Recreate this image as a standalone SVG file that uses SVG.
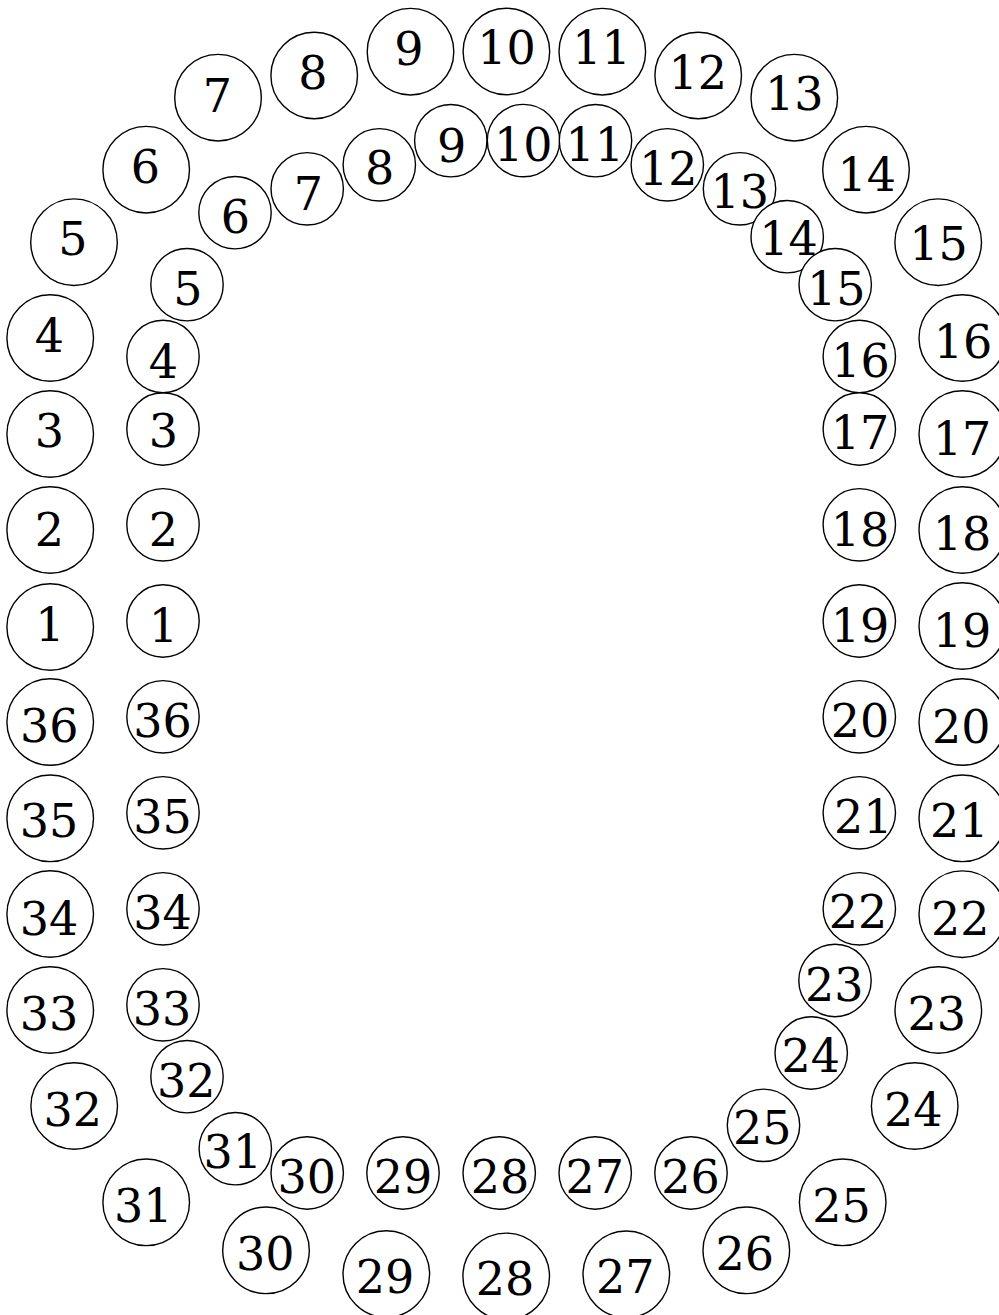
<svg xmlns="http://www.w3.org/2000/svg" width="999" height="1315" viewBox="0 0 999 1315">
<style>
circle{fill:#fff;stroke:#000;stroke-width:1.4}
text{font-family:"DejaVu Serif","Liberation Serif",serif;font-size:46px;fill:#000;text-anchor:middle}
</style>
<rect width="999" height="1315" fill="#fff"/>
<g id="connectors"/>
<g id="outer">
<g id="o1"><circle cx="50.2" cy="627" r="43.3"/><text x="49.8" y="640.7">1</text></g>
<g id="o2"><circle cx="50.2" cy="530" r="43.3"/><text x="49.5" y="546">2</text></g>
<g id="o3"><circle cx="50.2" cy="434" r="43.3"/><text x="49.5" y="446.7">3</text></g>
<g id="o4"><circle cx="50.2" cy="338" r="43.3"/><text x="49.5" y="351.7">4</text></g>
<g id="o5"><circle cx="74" cy="242.2" r="43.3"/><text x="72.8" y="255">5</text></g>
<g id="o6"><circle cx="146.2" cy="169.7" r="43.3"/><text x="145.3" y="183.3">6</text></g>
<g id="o7"><circle cx="218" cy="97.7" r="43.3"/><text x="217.5" y="111.7">7</text></g>
<g id="o8"><circle cx="314.2" cy="75.5" r="43.3"/><text x="313" y="89.3">8</text></g>
<g id="o9"><circle cx="410.5" cy="51.7" r="43.3"/><text x="409" y="65.3">9</text></g>
<g id="o10"><circle cx="506.4" cy="51.5" r="43.3"/><text x="506.6" y="64">10</text></g>
<g id="o11"><circle cx="602.3" cy="51.7" r="43.3"/><text x="601.5" y="64">11</text></g>
<g id="o12"><circle cx="698.2" cy="75.5" r="43.3"/><text x="697.8" y="89.3">12</text></g>
<g id="o13"><circle cx="794.3" cy="97.7" r="43.3"/><text x="794.3" y="110">13</text></g>
<g id="o14"><circle cx="866" cy="169.7" r="43.3"/><text x="866.8" y="190.7">14</text></g>
<g id="o15"><circle cx="938.2" cy="242.2" r="43.3"/><text x="938.5" y="260">15</text></g>
<g id="o16"><circle cx="962.3" cy="338" r="43.3"/><text x="963" y="358.3">16</text></g>
<g id="o17"><circle cx="962.3" cy="434" r="43.3"/><text x="962" y="455">17</text></g>
<g id="o18"><circle cx="962.3" cy="530" r="43.3"/><text x="962" y="550">18</text></g>
<g id="o19"><circle cx="962.3" cy="626" r="43.3"/><text x="962" y="646.7">19</text></g>
<g id="o20"><circle cx="962.3" cy="722" r="43.3"/><text x="961.2" y="742.7">20</text></g>
<g id="o21"><circle cx="962.3" cy="818.3" r="43.3"/><text x="959.2" y="837.3">21</text></g>
<g id="o22"><circle cx="962.3" cy="914.2" r="43.3"/><text x="960.3" y="935">22</text></g>
<g id="o23"><circle cx="938.3" cy="1010" r="43.3"/><text x="936.7" y="1030">23</text></g>
<g id="o24"><circle cx="914.7" cy="1106" r="43.3"/><text x="913.2" y="1126">24</text></g>
<g id="o25"><circle cx="842.7" cy="1202.3" r="43.3"/><text x="841.5" y="1221.7">25</text></g>
<g id="o26"><circle cx="746.3" cy="1250.3" r="43.3"/><text x="744.8" y="1270">26</text></g>
<g id="o27"><circle cx="626.3" cy="1274.3" r="43.3"/><text x="625.2" y="1293.3">27</text></g>
<g id="o28"><circle cx="506.2" cy="1276.4" r="43.3"/><text x="505" y="1295">28</text></g>
<g id="o29"><circle cx="386.3" cy="1274" r="43.3"/><text x="385" y="1293.3">29</text></g>
<g id="o30"><circle cx="266" cy="1250.3" r="43.3"/><text x="265.2" y="1270">30</text></g>
<g id="o31"><circle cx="146.2" cy="1202.3" r="43.3"/><text x="143.2" y="1221.7">31</text></g>
<g id="o32"><circle cx="74.2" cy="1106" r="43.3"/><text x="72.7" y="1126">32</text></g>
<g id="o33"><circle cx="50.2" cy="1010" r="43.3"/><text x="49" y="1030">33</text></g>
<g id="o34"><circle cx="50.2" cy="914" r="43.3"/><text x="49" y="935">34</text></g>
<g id="o35"><circle cx="50.2" cy="818.3" r="43.3"/><text x="49" y="837.3">35</text></g>
<g id="o36"><circle cx="50.2" cy="722" r="43.3"/><text x="49.2" y="741.7">36</text></g>
</g>
<g id="inner">
<g id="i1"><circle cx="163" cy="621" r="36.2"/><text x="163.5" y="641.5">1</text></g>
<g id="i2"><circle cx="163" cy="524.8" r="36.2"/><text x="163.5" y="546">2</text></g>
<g id="i3"><circle cx="163" cy="429" r="36.2"/><text x="163.5" y="447.3">3</text></g>
<g id="i4"><circle cx="163" cy="356.5" r="36.2"/><text x="163.5" y="378.3">4</text></g>
<g id="i5"><circle cx="187" cy="284.7" r="36.2"/><text x="187.8" y="305">5</text></g>
<g id="i6"><circle cx="235" cy="212.7" r="36.2"/><text x="235.5" y="232.7">6</text></g>
<g id="i7"><circle cx="307.2" cy="188.8" r="36.2"/><text x="308.3" y="210">7</text></g>
<g id="i8"><circle cx="379.3" cy="164.8" r="36.2"/><text x="379.7" y="184.3">8</text></g>
<g id="i9"><circle cx="450.8" cy="140.7" r="36.2"/><text x="451.7" y="161.7">9</text></g>
<g id="i10"><circle cx="523.5" cy="140.6" r="36.2"/><text x="523.3" y="160.5">10</text></g>
<g id="i11"><circle cx="595.5" cy="140.7" r="36.2"/><text x="594.8" y="160.7">11</text></g>
<g id="i12"><circle cx="667.3" cy="164.8" r="36.2"/><text x="668.2" y="185">12</text></g>
<g id="i13"><circle cx="739.5" cy="188.8" r="36.2"/><text x="739.8" y="208.3">13</text></g>
<g id="i14"><circle cx="787.2" cy="236.7" r="36.2"/><text x="788.5" y="255">14</text></g>
<g id="i15"><circle cx="835.2" cy="284.7" r="36.2"/><text x="836.2" y="305">15</text></g>
<g id="i16"><circle cx="859.3" cy="356.5" r="36.2"/><text x="860.5" y="377.3">16</text></g>
<g id="i17"><circle cx="859.3" cy="429" r="36.2"/><text x="860" y="449">17</text></g>
<g id="i18"><circle cx="859.3" cy="524.8" r="36.2"/><text x="860" y="546">18</text></g>
<g id="i19"><circle cx="859.3" cy="621" r="36.2"/><text x="860" y="641.7">19</text></g>
<g id="i20"><circle cx="859.3" cy="716.8" r="36.2"/><text x="860" y="736.7">20</text></g>
<g id="i21"><circle cx="859.3" cy="812.8" r="36.2"/><text x="863.3" y="832.7">21</text></g>
<g id="i22"><circle cx="859.3" cy="908.8" r="36.2"/><text x="858" y="928.3">22</text></g>
<g id="i23"><circle cx="835" cy="980.5" r="36.2"/><text x="834.3" y="1000.7">23</text></g>
<g id="i24"><circle cx="811.2" cy="1053" r="36.2"/><text x="810.8" y="1072.3">24</text></g>
<g id="i25"><circle cx="763.5" cy="1125.3" r="36.2"/><text x="762.3" y="1144">25</text></g>
<g id="i26"><circle cx="691" cy="1173" r="36.2"/><text x="690.5" y="1193.3">26</text></g>
<g id="i27"><circle cx="595.2" cy="1173" r="36.2"/><text x="594.7" y="1193.3">27</text></g>
<g id="i28"><circle cx="499.2" cy="1173" r="36.2"/><text x="500" y="1193.3">28</text></g>
<g id="i29"><circle cx="403" cy="1173" r="36.2"/><text x="403" y="1193.3">29</text></g>
<g id="i30"><circle cx="307.2" cy="1173" r="36.2"/><text x="306.8" y="1192.7">30</text></g>
<g id="i31"><circle cx="235.3" cy="1148.7" r="36.2"/><text x="232.8" y="1168.3">31</text></g>
<g id="i32"><circle cx="187" cy="1076.7" r="36.2"/><text x="186.2" y="1097.3">32</text></g>
<g id="i33"><circle cx="163" cy="1004.8" r="36.2"/><text x="162" y="1025">33</text></g>
<g id="i34"><circle cx="163" cy="908.8" r="36.2"/><text x="162.5" y="929.3">34</text></g>
<g id="i35"><circle cx="163" cy="812.8" r="36.2"/><text x="162.5" y="833.3">35</text></g>
<g id="i36"><circle cx="163" cy="716.8" r="36.2"/><text x="162.5" y="736.7">36</text></g>
</g>
</svg>
